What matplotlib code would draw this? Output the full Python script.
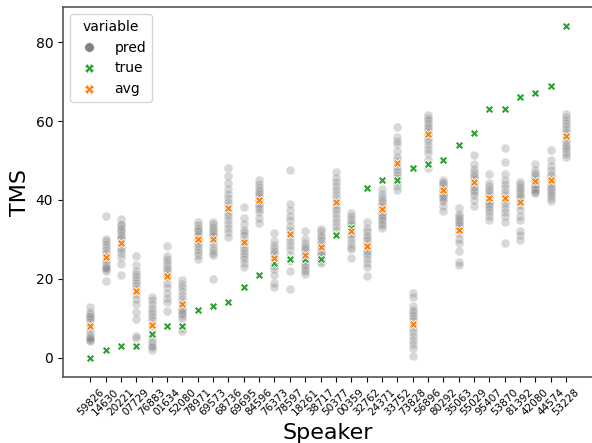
import matplotlib.pyplot as plt
from matplotlib.lines import Line2D

# Data
speakers = ['59826', '14630', '20221', '07729', '76883', '01634', '52080', '78971',
            '69573', '68736', '69695', '84596', '76373', '78597', '18261', '38717',
            '50377', '00359', '32762', '24371', '33752', '73828', '56896', '80292',
            '35063', '55029', '95407', '53870', '81392', '42080', '44574', '53228']

true_tms = [0, 2, 3, 3, 6, 8, 8, 12, 13, 14, 18, 21, 24, 25, 25, 25,
            31, 33, 43, 45, 45, 48, 49, 50, 54, 57, 63, 63, 66, 67, 69, 84]

avg_tms = [8.0, 25.5, 29.2, 17.0, 8.3, 20.6, 13.5, 30.0, 30.0, 37.9, 29.4, 40.1,
           25.3, 31.3, 26.0, 28.1, 39.5, 32.2, 28.3, 37.7, 49.3, 8.5, 56.6, 42.4,
           32.4, 44.6, 40.5, 40.5, 39.4, 44.8, 45.0, 56.3]

pred_tms = [
    [12.9, 11.5, 11.0, 10.6, 10.2, 9.8, 9.0, 8.2, 7.5, 6.5, 5.8, 5.2, 4.8, 4.5, 4.3, 5.0],
    [35.9, 30.2, 29.5, 28.8, 28.0, 27.2, 26.5, 25.8, 25.0, 24.3, 23.6, 23.0, 22.4, 22.0, 19.4, 22.8],
    [35.1, 34.0, 33.6, 33.0, 32.4, 31.8, 31.2, 30.6, 30.0, 29.0, 28.0, 26.6, 25.5, 23.7, 21.0, 27.4],
    [25.7, 23.6, 22.0, 21.2, 20.5, 19.8, 19.0, 18.3, 17.5, 16.2, 14.9, 13.5, 11.6, 9.9, 5.1, 5.6],
    [15.5, 14.5, 13.6, 12.5, 11.8, 11.0, 10.2, 9.6, 8.5, 7.0, 5.5, 4.5, 3.8, 3.0, 2.0, 2.6],
    [28.4, 25.8, 25.0, 24.2, 23.5, 22.8, 22.2, 21.5, 20.5, 19.0, 17.8, 16.5, 15.2, 14.0, 11.9, 21.0],
    [19.7, 18.8, 17.8, 16.8, 16.0, 15.0, 14.2, 13.5, 12.6, 11.5, 10.5, 9.8, 11.0, 12.0, 7.5, 6.8],
    [34.5, 33.6, 33.0, 32.5, 32.0, 31.4, 30.8, 30.2, 29.6, 29.0, 28.2, 27.5, 26.8, 26.0, 25.0, 29.9],
    [34.5, 33.8, 33.2, 32.6, 32.0, 31.5, 31.0, 30.5, 30.0, 29.2, 28.0, 27.2, 26.5, 26.0, 20.0, 30.8],
    [48.0, 46.0, 44.2, 42.8, 41.5, 40.5, 39.5, 38.6, 37.8, 36.8, 35.9, 35.0, 34.0, 33.0, 31.8, 30.5],
    [38.3, 35.5, 33.8, 32.5, 31.8, 31.0, 30.2, 29.5, 28.8, 28.0, 27.2, 26.5, 25.8, 25.0, 24.0, 22.9],
    [45.0, 44.0, 43.2, 42.5, 42.0, 41.5, 41.0, 40.5, 40.0, 39.5, 39.0, 38.5, 37.8, 37.0, 35.5, 34.2],
    [31.7, 29.5, 28.5, 27.8, 27.0, 26.5, 26.0, 25.5, 25.0, 24.5, 24.0, 23.3, 22.5, 21.0, 19.0, 18.0],
    [47.5, 38.9, 37.5, 36.0, 34.8, 33.5, 32.5, 31.5, 30.5, 29.5, 28.5, 27.5, 26.0, 24.5, 22.0, 17.5],
    [32.2, 30.0, 29.0, 28.4, 27.8, 27.2, 26.6, 26.0, 25.5, 25.0, 24.4, 23.8, 23.2, 22.6, 22.0, 21.1],
    [32.6, 32.0, 31.2, 30.5, 29.8, 29.2, 28.6, 28.0, 27.5, 27.0, 26.5, 26.0, 25.5, 25.0, 24.5, 23.9],
    [47.0, 45.5, 44.5, 43.5, 42.5, 41.5, 40.5, 39.8, 39.0, 38.2, 37.5, 36.5, 35.5, 34.5, 33.5, 32.5],
    [36.6, 35.8, 35.2, 34.5, 34.0, 33.5, 33.0, 32.5, 32.0, 31.5, 31.0, 30.0, 29.0, 28.0, 27.5, 25.3],
    [34.5, 33.0, 32.0, 31.2, 30.5, 29.8, 29.2, 28.6, 28.0, 27.4, 26.8, 26.0, 25.0, 24.0, 23.0, 20.6],
    [42.7, 41.5, 40.8, 40.0, 39.4, 38.8, 38.2, 37.6, 37.0, 36.5, 36.0, 35.4, 34.8, 34.2, 33.6, 32.9],
    [58.5, 56.0, 55.0, 54.2, 52.5, 51.0, 50.2, 49.5, 48.5, 47.8, 47.0, 46.3, 45.5, 44.5, 43.5, 42.5],
    [16.5, 15.5, 13.0, 12.2, 11.5, 10.8, 10.0, 9.3, 8.5, 7.5, 6.5, 5.5, 4.5, 3.5, 2.5, 0.5],
    [61.5, 60.8, 60.2, 59.5, 58.8, 58.2, 57.6, 57.0, 56.4, 55.8, 55.0, 54.0, 53.0, 52.0, 50.0, 48.0],
    [45.0, 44.6, 44.2, 43.8, 43.4, 43.0, 42.7, 42.4, 42.0, 41.6, 41.2, 40.8, 40.3, 39.8, 38.5, 37.3],
    [37.9, 36.5, 36.0, 35.5, 35.0, 34.5, 34.0, 33.5, 33.0, 32.5, 31.5, 30.0, 29.0, 27.0, 24.2, 23.5],
    [51.3, 49.0, 47.8, 47.0, 46.4, 45.8, 45.2, 44.7, 44.2, 43.7, 43.2, 42.6, 42.0, 41.2, 40.0, 38.4],
    [46.6, 44.2, 43.5, 42.8, 42.2, 41.6, 41.0, 40.5, 40.0, 39.5, 39.0, 38.4, 37.8, 37.0, 36.0, 34.9],
    [53.1, 49.5, 46.5, 45.0, 44.0, 43.0, 42.0, 41.2, 40.5, 39.8, 39.0, 38.0, 37.0, 36.0, 34.5, 29.2],
    [44.6, 44.0, 43.4, 42.8, 42.2, 41.6, 41.0, 40.4, 39.6, 38.6, 37.4, 36.0, 34.8, 32.0, 31.0, 29.8],
    [49.0, 47.5, 46.8, 46.2, 45.7, 45.2, 44.8, 44.4, 44.0, 43.6, 43.2, 42.8, 42.4, 42.0, 41.7, 45.0],
    [52.6, 50.0, 48.5, 47.5, 46.7, 46.0, 45.4, 44.8, 44.2, 43.6, 43.0, 42.4, 41.8, 41.2, 40.5, 39.7],
    [61.9, 61.0, 60.2, 59.5, 58.8, 58.0, 57.3, 56.6, 55.9, 55.2, 54.5, 53.8, 53.1, 52.4, 51.7, 50.9],
]

c_pred = '#808080'
c_true = '#2ca02c'
c_avg = '#ff7f0e'

fig = plt.figure(figsize=(5.92, 4.43), dpi=100)
# the original is cropped just before the right spine
ax = fig.add_axes([0.1064, 0.149, 0.896, 0.835])

# predictions per speaker (categorical x axis)
for spk, vals in zip(speakers, pred_tms):
    ax.scatter([spk] * len(vals), vals, s=40, color=c_pred, alpha=0.3,
               edgecolor='white', linewidth=0.5, zorder=2)

ax.scatter(speakers, true_tms, s=36, marker='X', color=c_true,
           edgecolor='white', linewidth=0.6, zorder=3)
ax.scatter(speakers, avg_tms, s=36, marker='X', color=c_avg,
           edgecolor='white', linewidth=0.6, zorder=3)

ax.set_xlim(-1.78, len(speakers) - 1 + 1.78)
ax.set_ylim(-4.9, 88.9)
ax.set_yticks([0, 20, 40, 60, 80])
ax.tick_params(axis='y', labelsize=10)
ax.tick_params(axis='x', labelsize=7.5, rotation=45)
ax.set_xlabel('Speaker', fontsize=16)
ax.set_ylabel('TMS', fontsize=16)

for sp in ax.spines.values():
    sp.set_color('#555555')
    sp.set_linewidth(1.2)
ax.spines['right'].set_visible(False)

handles = [
    Line2D([], [], marker='o', linestyle='none', color=c_pred, markersize=7, markeredgecolor='white', markeredgewidth=0.5),
    Line2D([], [], marker='X', linestyle='none', color=c_true, markersize=7, markeredgecolor='white', markeredgewidth=0.5),
    Line2D([], [], marker='X', linestyle='none', color=c_avg, markersize=7, markeredgecolor='white', markeredgewidth=0.5),
]
ax.legend(handles, ['pred', 'true', 'avg'], title='variable', loc='upper left',
          fontsize=10, title_fontsize=10)

fig.savefig('out.png', dpi=100)
